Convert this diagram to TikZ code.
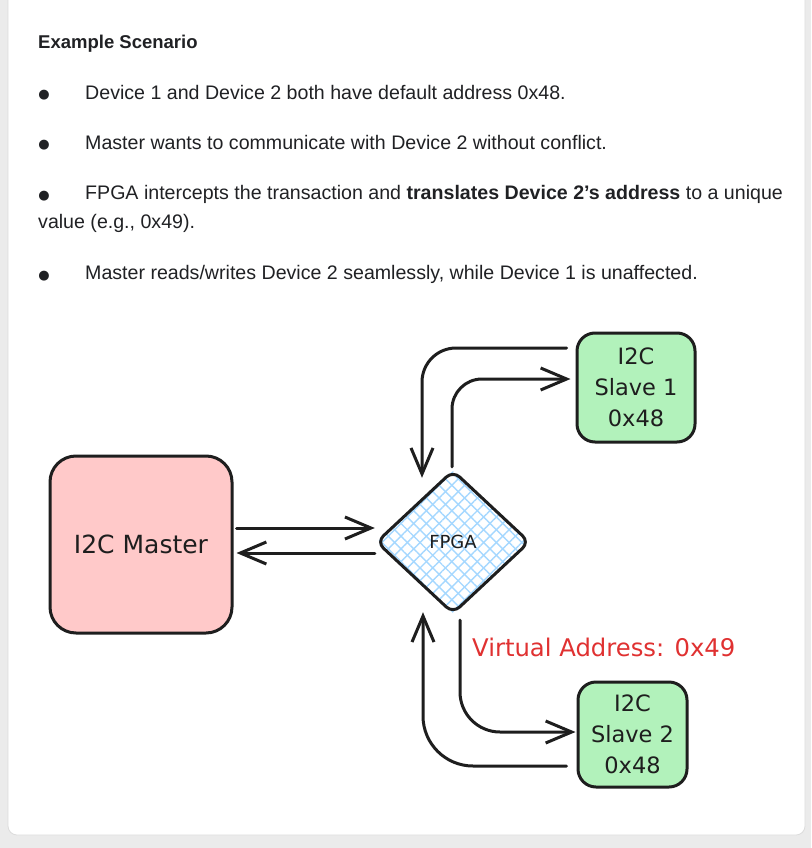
\documentclass[tikz,border=0pt]{standalone}
\usepackage{fontspec}
\setmainfont{Liberation Sans}
\newfontfamily\symfont{DejaVu Sans}
\newfontfamily\handfont{DejaVu Sans}
\usetikzlibrary{arrows.meta,shapes.geometric,patterns.meta,calc}
\definecolor{pagebg}{HTML}{EBEBEB}
\definecolor{cardline}{HTML}{DCDCDC}
\definecolor{ink}{HTML}{1E1E1E}
\definecolor{txt}{HTML}{202124}
\definecolor{pinkfill}{HTML}{FFC9C9}
\definecolor{greenfill}{HTML}{B2F2BB}
\definecolor{hatch}{HTML}{A5D8FF}
\definecolor{redtxt}{HTML}{E03131}
\tikzset{
  body/.style={anchor=base west, inner sep=0pt, text=txt, font=\fontsize{19.6}{22}\selectfont},
  bullet/.style={anchor=base, inner sep=0pt, text=txt, font=\symfont\fontsize{13}{15}\selectfont},
  box/.style={draw=ink, line width=3pt, text=ink, align=center, inner sep=0pt,
     font=\handfont\fontsize{22.5}{31}\selectfont},
  conn/.style={draw=ink, line width=3pt, line cap=round, line join=round,
     -{Straight Barb[length=26pt,width=22pt,line width=3pt]}}
}
\begin{document}
\begin{tikzpicture}[x=1pt,y=-1pt]
\useasboundingbox (0,0) rectangle (811,848);
\fill[pagebg] (0,0) rectangle (811,848);
\filldraw[fill=white, draw=cardline, line width=0.8pt, rounded corners=9pt] (8,-20) rectangle (805,835);

% text
\node[body, font=\bfseries\fontsize{18.5}{20}\selectfont] (t0) at (38,49) {Example Scenario};
\node[bullet] (b1) at (44,99) {●};
\node[body] (l1) at (85,99.5) {Device 1 and Device 2 both have default address 0x48.};
\node[bullet] (b2) at (44,149) {●};
\node[body] (l2) at (85,149.5) {Master wants to communicate with Device 2 without conflict.};
\node[bullet] (b3) at (44,199) {●};
\node[body] (l3) at (85,199.5) {FPGA intercepts the transaction and \textbf{translates Device 2’s address} to a unique};
\node[body] (l3b) at (38,228.5) {value (e.g., 0x49).};
\node[bullet] (b4) at (44,279) {●};
\node[body] (l4) at (85,279.5) {Master reads/writes Device 2 seamlessly, while Device 1 is unaffected.};

% diagram nodes
\node[box, fill=pinkfill, rounded corners=26pt, minimum width=182pt, minimum height=177pt,
      font=\handfont\fontsize{25}{31}\selectfont] (master) at (141,544.5) {I2C Master};
\node[diamond, fill=white, inner sep=0pt, minimum width=152pt, minimum height=142pt,
      postaction={pattern={Lines[angle=45,distance=9pt,line width=1.4pt]}, pattern color=hatch},
      postaction={pattern={Lines[angle=-45,distance=9pt,line width=1.4pt]}, pattern color=hatch},
      font=\handfont\fontsize{18}{20}\selectfont, text=ink] (fpga) at (453,542) {FPGA};
\draw[ink, line width=3pt, rounded corners=9pt, line join=round] (fpga.north) -- (fpga.east) -- (fpga.south) -- (fpga.west) -- cycle;
\node[box, fill=greenfill, rounded corners=18pt, minimum width=118pt, minimum height=109pt] (s1) at (636,387.5) {I2C\\Slave 1\\0x48};
\node[box, fill=greenfill, rounded corners=18pt, minimum width=109pt, minimum height=105pt] (s2) at (632.5,734.5) {I2C\\Slave 2\\0x48};
\node[anchor=west, inner sep=0pt, text=redtxt, font=\handfont\fontsize{24.3}{26}\selectfont] (va) at (472,647) {Virtual Address: 0x49};

% connectors
\draw[conn] ($(master.east)+(3,-16.5)$) -- ($(fpga.west)+(-2,-14)$);
\draw[conn] ($(fpga.west)+(-2,11)$) -- ($(master.east)+(3,8.5)$);
\draw[conn, rounded corners=34pt] ($(s1.west)+(-9,-39.5)$) -| ($(fpga.north)+(-31,7)$);
\draw[conn, rounded corners=30pt] ($(fpga.north)+(-1,-4)$) |- ($(s1.west)+(-5,-8.5)$);
\draw[conn, rounded corners=40pt] ($(fpga.south)+(7,7)$) |- ($(s2.west)+(-1,-2.5)$);
\draw[conn, rounded corners=50pt] ($(s2.west)+(-10,31.5)$) -| ($(fpga.south)+(-30,-1)$);
\end{tikzpicture}
\end{document}
